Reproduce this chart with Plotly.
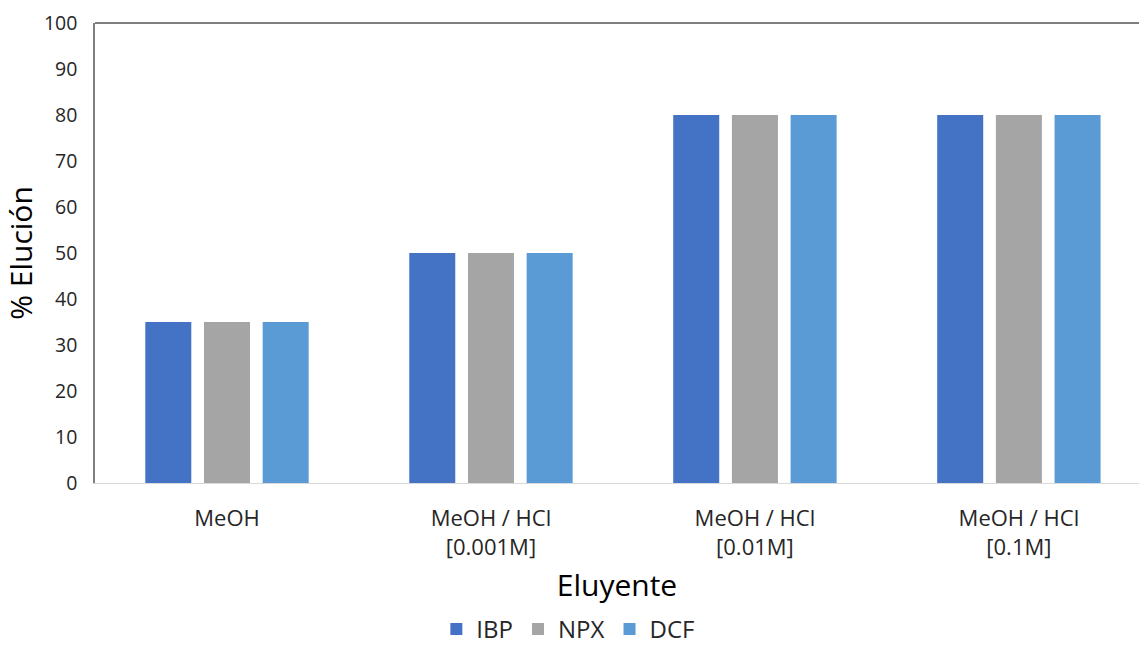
import plotly.graph_objects as go

categories = ["MeOH", "MeOH / HCl<br>[0.001M]", "MeOH / HCl<br>[0.01M]", "MeOH / HCl<br>[0.1M]"]
ibp = [35, 50, 80, 80]
npx = [35, 50, 80, 80]
dcf = [35, 50, 80, 80]
series_names = ["IBP", "NPX", "DCF"]
colors = ["#4472C4", "#A5A5A5", "#5B9BD5"]
y_ticks = list(range(0, 101, 10))

font_family = "Open Sans, Liberation Sans, sans-serif"

fig = go.Figure()
for name, vals, col in zip(series_names, [ibp, npx, dcf], colors):
    fig.add_trace(go.Bar(name=name, x=categories, y=vals, marker_color=col, marker_line_width=0))

fig.update_layout(
    width=1139, height=652,
    margin=dict(l=95, r=0, t=23, b=169),
    paper_bgcolor="white", plot_bgcolor="white",
    barmode="group", bargap=0.333, bargroupgap=0.216,
    font=dict(family=font_family, color="#262626"),
    legend=dict(orientation="h", xref="container", yref="container",
                x=0.499, y=0.0, xanchor="center", yanchor="bottom",
                font=dict(size=24, color="#262626"), itemwidth=30,
                traceorder="normal"),
    showlegend=True,
)
fig.update_xaxes(
    range=[-0.5, 3.455], showgrid=False, showline=True, linecolor="#D9D9D9", linewidth=1,
    ticks="", tickfont=dict(size=22, color="#262626"), ticklabelstandoff=16,
    title=dict(text="Eluyente", font=dict(size=30, color="#000000"), standoff=14),
)
fig.update_yaxes(
    range=[0, 100], tickvals=y_ticks, showgrid=False, showline=True, linecolor="#7F7F7F", linewidth=1.5,
    ticks="", tickfont=dict(size=19.5, color="#262626"), ticklabelstandoff=12,
    title=dict(text="% Elución", font=dict(size=30, color="#000000"), standoff=8),
    zeroline=False,
)
fig.add_shape(type="line", xref="paper", yref="paper", x0=0, x1=1, y0=1, y1=1,
              line=dict(color="#7F7F7F", width=2))

fig.write_html("out.html")
